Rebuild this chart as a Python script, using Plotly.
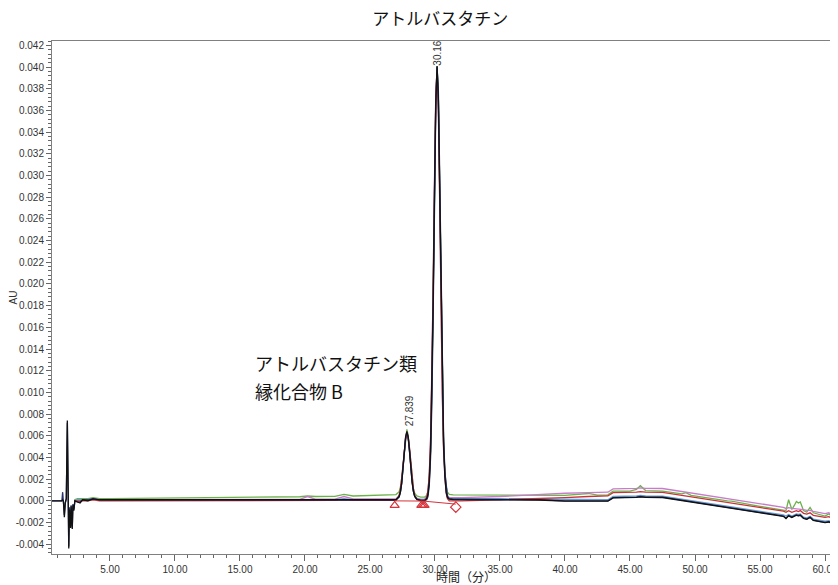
import plotly.graph_objects as go

# ---------------- data ----------------
time_early_detail = [0.54, 1.0, 1.30, 1.36, 1.42, 1.49, 1.56, 1.64, 1.72, 1.78, 1.83, 1.88,
                     1.93, 1.97, 2.01, 2.05, 2.10, 2.15, 2.22, 2.30, 2.5, 2.7, 2.9]
time_early_short = [2.25, 2.5, 2.7, 2.9]
time_main = [3.3, 3.7, 4.2, 5.0, 7.0, 10.0, 13.0, 15.0, 17.0, 19.6, 20.2, 20.8, 22.3, 23.0, 23.7,
             25.0, 26.5, 27.0,
             27.24, 27.34, 27.44, 27.54, 27.64, 27.74, 27.84, 27.94, 28.04, 28.14, 28.24, 28.34, 28.44, 28.6,
             28.9, 29.2,
             29.36, 29.46, 29.56, 29.66, 29.76, 29.86, 29.96, 30.06, 30.16, 30.26, 30.36, 30.46, 30.56,
             30.66, 30.76, 30.86, 30.96, 31.1,
             31.4, 32.0, 35.0, 38.0, 40.0, 41.8, 42.5, 43.3, 43.7, 45.0, 45.5, 45.8, 46.2, 47.5, 49.0,
             49.3, 49.7, 52.5, 52.8, 55.0, 56.8, 57.0, 57.2, 57.45, 57.65, 57.8, 57.95, 58.1, 58.35,
             58.6, 58.85, 59.1, 60.0, 60.3, 60.6, 61.0]

pink_early = [0.0000, 0.0001, 0.0001, 0.0001]
pink_main = [0.0001, 0.0002, 0.0001, 0.0001, 0.0001, 0.00012, 0.00012, 0.00013, 0.00013, 0.00014,
             0.0004, 0.00015, 0.00016, 0.0004, 0.00018, 0.0002, 0.0002, 0.0002,
             0.00047, 0.00091, 0.00174, 0.00304, 0.00458, 0.00589, 0.0064, 0.00589, 0.00466, 0.00311,
             0.00181, 0.00098, 0.00051, 0.00026,
             0.00015, 0.00015,
             0.0004, 0.0009, 0.0023, 0.0055, 0.0113, 0.0198, 0.0295, 0.0373, 0.0399, 0.0365, 0.0282,
             0.0185, 0.0103, 0.0050, 0.0021, 0.0009, 0.0005, 0.0003,
             0.0003, 0.0003, 0.0004, 0.0006, 0.0007, 0.00075, 0.00075, 0.0008, 0.0011, 0.0011, 0.00115,
             0.0012, 0.00115, 0.00114, 0.00086, 0.0008, 0.00073, 0.0002, 0.0002, -0.00027, -0.0006,
             -0.0007, -0.00062, -0.0007, -0.00072, -0.0007, -0.00075, -0.00075, -0.0008, -0.00087,
             -0.00088, -0.00098, -0.00118, -0.0011, -0.0013, -0.0014]

green_early = [0.0001, 0.0002, 0.0002, 0.0002]
green_main = [0.0002, 0.0003, 0.0002, 0.0002, 0.00022, 0.00025, 0.00028, 0.0003, 0.00035, 0.00038,
              0.00045, 0.0004, 0.00042, 0.0006, 0.00045, 0.0005, 0.00055, 0.00058,
              0.00084, 0.00126, 0.0021, 0.00325, 0.00474, 0.0060, 0.0066, 0.0060, 0.0048, 0.0032,
              0.00196, 0.00115, 0.0007, 0.00045,
              0.00035, 0.00035,
              0.0005, 0.0009, 0.0021, 0.0049, 0.0103, 0.0186, 0.0285, 0.0368, 0.0401, 0.0372, 0.0292,
              0.0195, 0.0111, 0.0055, 0.0026, 0.0013, 0.0008, 0.0006,
              0.00055, 0.00055, 0.0005, 0.0005, 0.0005, 0.00068, 0.00053, 0.00055, 0.0009, 0.0009,
              0.00105, 0.0014, 0.00095, 0.0009, 0.00064, 0.00075, 0.0005, 0.0000, -0.00002, -0.0005,
              -0.00082, -0.0009, 0.0001, -0.0008, -0.0004, -0.00005, -0.0002, -0.0001, -0.0009,
              -0.00105, -0.0006, -0.0011, -0.0014, -0.0012, -0.0015, -0.0016]

red_early = [0.0000, 0.0000, 0.0000, 0.0000]
red_main = [0.0000, 0.0001, 0.0000, 0.0000, 0.0000, 0.0000, 0.00002, 0.00003, 0.00003, 0.00004,
            0.00006, 0.00004, 0.00004, 0.0001, 0.00005, 0.00005, 0.00005, 0.00005,
            0.0005, 0.0011, 0.0021, 0.0034, 0.0047, 0.0057, 0.0060, 0.0058, 0.0049, 0.0035,
            0.0021, 0.0011, 0.0005, 0.0001,
            0.0000, 0.0000,
            0.0003, 0.0009, 0.0024, 0.0057, 0.0116, 0.0202, 0.0298, 0.0374, 0.0396, 0.0360, 0.0276,
            0.0179, 0.0099, 0.0047, 0.0019, 0.0007, 0.0002, 0.0000,
            0.0000, 0.0000, 0.0001, 0.0002, 0.0003, 0.0004, 0.0004, 0.00045, 0.00075, 0.00075,
            0.0008, 0.00085, 0.0008, 0.00079, 0.00051, 0.00045, 0.00038, -0.00015, -0.00015,
            -0.00062, -0.00095, -0.00105, -0.0009, -0.00105, -0.001, -0.0009, -0.00098, -0.0009,
            -0.00115, -0.00122, -0.0011, -0.00133, -0.00153, -0.00145, -0.00165, -0.00175]

lightblue_early = [0.0000, 0.0001, 0.0001, 0.0001]
lightblue_main = [0.0001, 0.0002, 0.0001, 0.0001, 0.0001, 0.0001, 0.0001, 0.00012, 0.0001, 0.0001,
                  0.00015, 0.0001, 0.0001, 0.0002, 0.0001, 0.00012, 0.00012, 0.00012,
                  0.00037, 0.0008, 0.0016, 0.0029, 0.0044, 0.0057, 0.0062, 0.0057, 0.0045, 0.0030,
                  0.0017, 0.00086, 0.0004, 0.00016,
                  0.0001, 0.0001,
                  0.00026, 0.00067, 0.0019, 0.0047, 0.0100, 0.0184, 0.0283, 0.0367, 0.0400, 0.0370,
                  0.0291, 0.0194, 0.0110, 0.0054, 0.0024, 0.0010, 0.0004, 0.00022,
                  0.0002, 0.0002, 0.0002, 0.00015, 0.0001, 0.00008, 0.00008, 0.0001, 0.0004, 0.0004,
                  0.00045, 0.0005, 0.00045, 0.00044, 0.00016, 0.0001, 0.00003, -0.0005, -0.0005,
                  -0.00097, -0.0013, -0.0014, -0.00125, -0.0014, -0.0013, -0.0012, -0.00125, -0.0012,
                  -0.0015, -0.00157, -0.00142, -0.00168, -0.00188, -0.00182, -0.002, -0.0021]

navy_early = [0.0, 0.0, 0.0, 0.0008, 0.0000, -0.0013, -0.0002, 0.0002, 0.0072, 0.0008, -0.0042,
              -0.0006, -0.0020, -0.0023, -0.0004, -0.0019, -0.0024, -0.0003, -0.0008, 0.0000,
              -0.0001, -0.0001, 0.0001]
navy_main = [0.0001, 0.0002, 0.0001, 0.0001, 0.0001, 0.0001, 0.0001, 0.0001, 0.0001, 0.0001,
             0.00012, 0.0001, 0.0001, 0.00015, 0.0001, 0.0001, 0.0001, 0.0001,
             0.00037, 0.0008, 0.00164, 0.00294, 0.0045, 0.0058, 0.0063, 0.0058, 0.00456, 0.0030,
             0.0017, 0.00087, 0.0004, 0.00015,
             0.00005, 0.00005,
             0.0001, 0.0004, 0.0014, 0.0040, 0.0091, 0.0172, 0.0272, 0.0360, 0.0400, 0.0378, 0.0302,
             0.0205, 0.0119, 0.0060, 0.0027, 0.0011, 0.0004, 0.0002,
             0.00015, 0.00015, 0.00015, 0.0001, 0.0000, -0.00002, -0.00002, 0.0000, 0.0003, 0.0003,
             0.00035, 0.0004, 0.00035, 0.00034, 0.00006, 0.0000, -0.00007, -0.0006, -0.0006,
             -0.00107, -0.0014, -0.0016, -0.00135, -0.0015, -0.0014, -0.0013, -0.00135, -0.0013,
             -0.0016, -0.00167, -0.0015, -0.00178, -0.00198, -0.00192, -0.0021, -0.0022]

black_early = [0.0, 0.0, 0.0, 0.0001, 0.0000, -0.0015, -0.0002, 0.0002, 0.0074, 0.0010, -0.0044,
               -0.0008, -0.0022, -0.0025, -0.0005, -0.0020, -0.0026, -0.0004, -0.0009, 0.0000,
               -0.0001, -0.0002, 0.0001]
black_main = [0.0000, 0.00018, 0.0001, 0.0001, 0.0001, 0.0001, 0.0001, 0.0001, 0.00008, 0.0001,
              0.00012, 0.0001, 0.0001, 0.00014, 0.0001, 0.0001, 0.0001, 0.0001,
              0.00038, 0.00082, 0.00167, 0.00299, 0.00455, 0.0059, 0.0064, 0.0059, 0.00464, 0.00306,
              0.00174, 0.00089, 0.00042, 0.00015,
              0.00004, 0.00004,
              0.0002, 0.0006, 0.0018, 0.0046, 0.0100, 0.0183, 0.0283, 0.0367, 0.0401, 0.0370, 0.0290,
              0.0192, 0.0108, 0.0052, 0.0022, 0.0008, 0.0003, 0.00015,
              0.00012, 0.00012, 0.00012, 0.00008, -0.00003, -0.00005, -0.00005, -0.00003, 0.00027,
              0.00027, 0.00032, 0.00037, 0.00032, 0.00031, 0.00003, -0.00003, -0.0001, -0.00063,
              -0.00063, -0.0011, -0.00143, -0.00163, -0.00138, -0.00153, -0.00143, -0.00133,
              -0.00138, -0.00133, -0.00163, -0.0017, -0.00153, -0.00181, -0.00201, -0.00195,
              -0.00213, -0.00223]

# integration baseline and markers
baseline_time = [26.9, 29.1, 31.6]
baseline_value = [0.0000, -0.00002, -0.0003]
triangle_time = [26.9, 28.95, 29.08, 29.2]
triangle_value = [-0.00042, -0.00042, -0.00042, -0.00042]
diamond_time = [31.6]
diamond_value = [-0.00058]

peak_labels = ["27.839", "30.16"]
peak_label_time = [28.03, 30.21]
peak_label_value = [0.0083, 0.0413]

x_tick_values = [5, 10, 15, 20, 25, 30, 35, 40, 45, 50, 55, 60]
x_tick_labels = ["5.00", "10.00", "15.00", "20.00", "25.00", "30.00", "35.00", "40.00",
                 "45.00", "50.00", "55.00", "60.00"]
y_tick_values = [-0.004, -0.002, 0.0, 0.002, 0.004, 0.006, 0.008, 0.010, 0.012, 0.014, 0.016,
                 0.018, 0.020, 0.022, 0.024, 0.026, 0.028, 0.030, 0.032, 0.034, 0.036, 0.038,
                 0.040, 0.042]
y_tick_labels = ["-0.004", "-0.002", "0.000", "0.002", "0.004", "0.006", "0.008", "0.010",
                 "0.012", "0.014", "0.016", "0.018", "0.020", "0.022", "0.024", "0.026", "0.028",
                 "0.030", "0.032", "0.034", "0.036", "0.038", "0.040", "0.042"]

# ---------------- figure ----------------
fig = go.Figure()

traces = [
    (time_early_short + time_main, green_early + green_main, "#6bb24a"),
    (time_early_short + time_main, pink_early + pink_main, "#c77cc9"),
    (time_early_short + time_main, lightblue_early + lightblue_main, "#6a9fd4"),
    (time_early_short + time_main, red_early + red_main, "#c8333a"),
    (time_early_detail + time_main, navy_early + navy_main, "#27336f"),
    (time_early_detail + time_main, black_early + black_main, "#111111"),
]
for xs, ys, col in traces:
    fig.add_trace(go.Scatter(x=xs, y=ys, mode="lines", line=dict(color=col, width=1.3),
                             showlegend=False, hoverinfo="skip"))

fig.add_trace(go.Scatter(x=baseline_time, y=baseline_value, mode="lines",
                         line=dict(color="#d6333a", width=1), showlegend=False))
fig.add_trace(go.Scatter(x=triangle_time, y=triangle_value, mode="markers",
                         marker=dict(symbol="triangle-up-open", size=8, color="#d6333a",
                                     line=dict(width=1.2, color="#d6333a")),
                         showlegend=False))
fig.add_trace(go.Scatter(x=diamond_time, y=diamond_value, mode="markers",
                         marker=dict(symbol="diamond-open", size=8, color="#d6333a",
                                     line=dict(width=1.2, color="#d6333a")),
                         showlegend=False))

for lab, tx, ty in zip(peak_labels, peak_label_time, peak_label_value):
    fig.add_annotation(x=tx, y=ty, text=lab, textangle=-90, showarrow=False,
                       font=dict(family="Liberation Sans, Arial", size=10, color="#333333"),
                       xanchor="center", yanchor="middle")

cjk = "Noto Sans CJK JP"
fig.add_annotation(x=16.0, y=0.01272, text="アトルバスタチン類", showarrow=False,
                   xanchor="left", yanchor="middle", font=dict(family=cjk, size=18, color="#111111"))
fig.add_annotation(x=16.0, y=0.01010, text="縁化合物 B", showarrow=False,
                   xanchor="left", yanchor="middle", font=dict(family=cjk, size=18, color="#111111"))

fig.add_annotation(x=0.527, y=-0.0435, xref="paper", yref="paper", text="時間（分）",
                   showarrow=False, xanchor="center", yanchor="middle",
                   font=dict(family=cjk, size=12, color="#222222"))
fig.add_annotation(x=-0.0485, y=0.5, xref="paper", yref="paper", text="AU", textangle=-90,
                   showarrow=False, xanchor="center", yanchor="middle",
                   font=dict(family="Liberation Sans, Arial", size=10, color="#333333"))

# the page body adds an 8 px offset, so the figure is sized/placed to compensate
fig.update_layout(
    width=830, height=577,
    margin=dict(l=44, r=0, t=33, b=31, autoexpand=False),
    paper_bgcolor="white", plot_bgcolor="white",
    title=dict(text="アトルバスタチン", x=0.494, xref="paper", xanchor="center",
               y=1 - 11 / 577, yref="container", yanchor="middle",
               font=dict(family=cjk, size=17, color="#111111")),
    font=dict(family="Liberation Sans, Arial", size=10, color="#333333"),
    showlegend=False,
)
fig.update_xaxes(range=[0.54, 61.0], tickmode="array", tickvals=x_tick_values,
                 ticktext=x_tick_labels, ticks="outside", ticklen=6, tickcolor="#666666",
                 showline=True, linecolor="#808080", linewidth=1, mirror=True,
                 showgrid=False, zeroline=False, automargin=False,
                 tickfont=dict(family="Liberation Sans, Arial", size=10, color="#333333"),
                 minor=dict(dtick=1, tick0=0, ticks="outside", ticklen=3, tickcolor="#666666",
                            showgrid=False))
fig.update_yaxes(range=[-0.0049, 0.0424], tickmode="array", tickvals=y_tick_values,
                 ticktext=y_tick_labels, ticks="outside", ticklen=5, tickcolor="#666666",
                 showline=True, linecolor="#808080", linewidth=1, mirror=False,
                 showgrid=False, zeroline=False, automargin=False,
                 tickfont=dict(family="Liberation Sans, Arial", size=10, color="#333333"),
                 minor=dict(dtick=0.0004, tick0=0, ticks="outside", ticklen=3,
                            tickcolor="#666666", showgrid=False))

fig.write_html("out.html")
